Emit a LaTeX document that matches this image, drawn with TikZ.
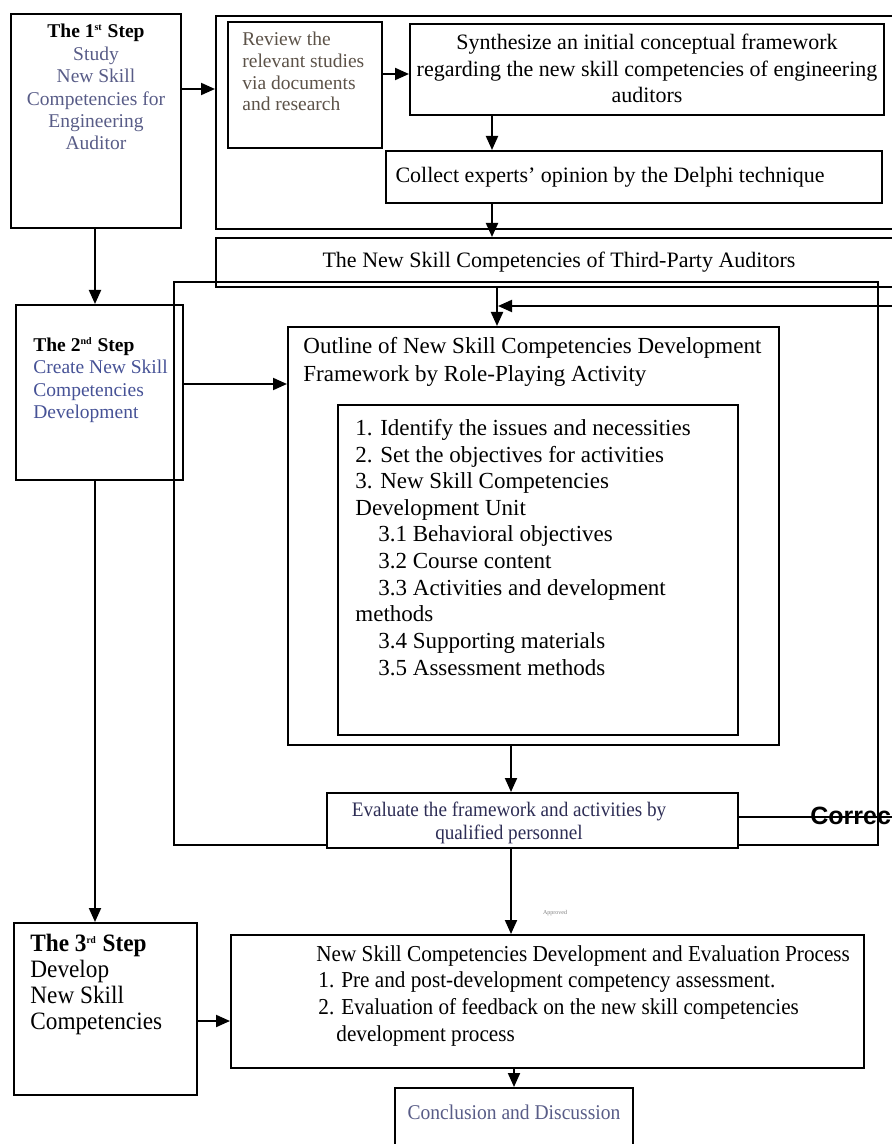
\documentclass[tikz,border=0pt]{standalone}
\usepackage{fontspec}
\setmainfont{Liberation Serif}
\setsansfont{Liberation Sans}
\newfontfamily\narrowfont[FakeStretch=0.93]{Liberation Serif}
\usetikzlibrary{arrows.meta,fit}
\definecolor{stepblue}{RGB}{70,82,150}
\definecolor{stepgray}{RGB}{88,92,135}
\definecolor{reviewgray}{RGB}{92,82,72}
\definecolor{evalblue}{RGB}{45,45,85}
\newcommand{\ordsup}[1]{\textsuperscript{\fontsize{5}{5}\selectfont #1}}

\begin{document}
\begin{tikzpicture}[x=0.5pt, y=-0.5pt,
    box/.style={draw, line width=1pt, inner sep=0pt},
    arr/.style={-{Triangle[length=7pt,width=6pt]}, line width=1pt},
    txt/.style={inner sep=0pt}]
  \useasboundingbox (0,0) rectangle (892,1144);
  \clip (0,0) rectangle (892,1144);

  % boxes
  \node [box, fit={(11,14) (181,228)}] (step1) {};
  \node [box, fit={(216,16) (905,229)}] (phase1) {};
  \node [box, fit={(228,22) (382,148)}] (review) {};
  \node [box, fit={(410,24) (884,115)}] (synth) {};
  \node [box, fit={(386,151) (882,203)}] (collect) {};
  \node [box, fit={(216,238) (905,287)}] (tpa) {};
  \node [box, fit={(174,282) (878,845)}] (loop) {};
  \node [box, fit={(16,305) (183,480)}] (step2) {};
  \node [box, fit={(288,327) (779,745)}] (outline) {};
  \node [box, fit={(338,405) (738,735)}] (units) {};
  \node [box, fill=white, fit={(327,793) (738,848)}] (eval) {};
  \node [box, fit={(14,923) (197,1095)}] (step3) {};
  \node [box, fit={(231,935) (864,1068)}] (proc) {};
  \node [box, fit={(395,1088) (633,1160)}] (concl) {};

  % texts
  \node [txt, anchor=north, align=center, text=stepgray, font=\fontsize{9.75}{11.2}\selectfont] (step1txt) at (96,24)
        {\textcolor{black}{\textbf{The 1\ordsup{st} Step}}\\Study\\New Skill\\Competencies for\\Engineering\\Auditor};
  \node [txt, anchor=north west, align=left, text=reviewgray, font=\fontsize{9.75}{10.8}\selectfont] (reviewtxt) at (242,32)
        {Review the\\relevant studies\\via documents\\and research};
  \node [txt, anchor=north, align=center, font=\fontsize{11}{13.25}\selectfont] (synthtxt) at (647,34)
        {Synthesize an initial conceptual framework\\regarding the new skill competencies of engineering\\auditors};
  \node [txt, font=\fontsize{11}{13}\selectfont] (collecttxt) at (610,177)
        {Collect experts' opinion by the Delphi technique};
  \node [txt, font=\fontsize{11}{13}\selectfont] (tpatxt) at (559,262)
        {The New Skill Competencies of Third-Party Auditors};
  \node [txt, anchor=north west, align=left, text=stepblue, font=\fontsize{9.75}{11.2}\selectfont] (step2txt) at (33,337)
        {\textcolor{black}{\textbf{The 2\ordsup{nd} Step}}\\Create New Skill\\Competencies\\Development};
  \node [txt, anchor=north west, align=left, font=\fontsize{11.5}{14}\selectfont] (outlinetxt) at (303,337)
        {Outline of New Skill Competencies Development\\Framework by Role-Playing Activity};
  \node [txt, anchor=north west, align=left, font=\fontsize{11.5}{13.3}\selectfont] (unitstxt) at (355,419)
        {1. Identify the issues and necessities\\
         2. Set the objectives for activities\\
         3. New Skill Competencies\\
         Development Unit\\
         \hspace*{11.5pt}3.1 Behavioral objectives\\
         \hspace*{11.5pt}3.2 Course content\\
         \hspace*{11.5pt}3.3 Activities and development\\
         methods\\
         \hspace*{11.5pt}3.4 Supporting materials\\
         \hspace*{11.5pt}3.5 Assessment methods};
  \node [txt, align=center, text=evalblue, font=\narrowfont\fontsize{10.3}{11.5}\selectfont] (evaltxt) at (509,823)
        {Evaluate the framework and activities by\\qualified personnel};
  \node [txt, anchor=west, font=\sffamily\bfseries\fontsize{12.5}{14}\selectfont] (corrtxt) at (810,816) {Correc};
  \node [txt, text=gray, font=\fontsize{3}{3.5}\selectfont] (apprtxt) at (555,913) {Approved};
  \node [txt, anchor=north west, align=left, font=\narrowfont\fontsize{12.5}{13}\selectfont] (step3txt) at (30,934)
        {\textbf{The 3\ordsup{rd} Step}\\Develop\\New Skill\\Competencies};
  \node [txt, anchor=north west, align=left, font=\narrowfont\fontsize{11.4}{13.3}\selectfont] (proctxt) at (316,945)
        {New Skill Competencies Development and Evaluation Process\\
         \hspace*{1pt}1. Pre and post-development competency assessment.\\
         \hspace*{1pt}2. Evaluation of feedback on the new skill competencies\\
         \hspace*{10pt}development process};
  \node [txt, text=stepgray, font=\narrowfont\fontsize{10.5}{12}\selectfont] (concltxt) at (514,1112)
        {Conclusion and Discussion};

  % levels for the connectors
  \coordinate (y89) at (0,89);
  \coordinate (y74) at (0,74);
  \coordinate (y384) at (0,384);
  \coordinate (y1021) at (0,1021);
  \coordinate (x95) at (95,0);
  \coordinate (x492) at (492,0);
  \coordinate (x497) at (497,0);
  \coordinate (x511) at (511,0);
  \coordinate (fbR) at (895,306);
  \coordinate (fbL) at (498,306);
  \coordinate (corrR) at (895,817);

  % connectors
  \draw [arr] (step1.east |- y89) -- (phase1.west |- y89);
  \draw [arr] (review.east |- y74) -- (synth.west |- y74);
  \draw [arr] (synth.south -| x492) -- (collect.north -| x492);
  \draw [arr] (collect.south -| x492) -- (tpa.north -| x492);
  \draw [arr] (tpa.south -| x497) -- (outline.north -| x497);
  \draw [arr] (fbR) -- (fbL);
  \draw [arr] (step2.east |- y384) -- (outline.west |- y384);
  \draw [arr] (outline.south -| x511) -- (eval.north -| x511);
  \draw [line width=1pt] (eval.east |- corrR) -- (corrR);
  \draw [arr] (eval.south -| x511) -- (proc.north -| x511);
  \draw [arr] (step1.south -| x95) -- (step2.north -| x95);
  \draw [arr] (step2.south -| x95) -- (step3.north -| x95);
  \draw [arr] (step3.east |- y1021) -- (proc.west |- y1021);
  \draw [arr] (proc.south -| concl.north) -- (concl.north);
\end{tikzpicture}
\end{document}
